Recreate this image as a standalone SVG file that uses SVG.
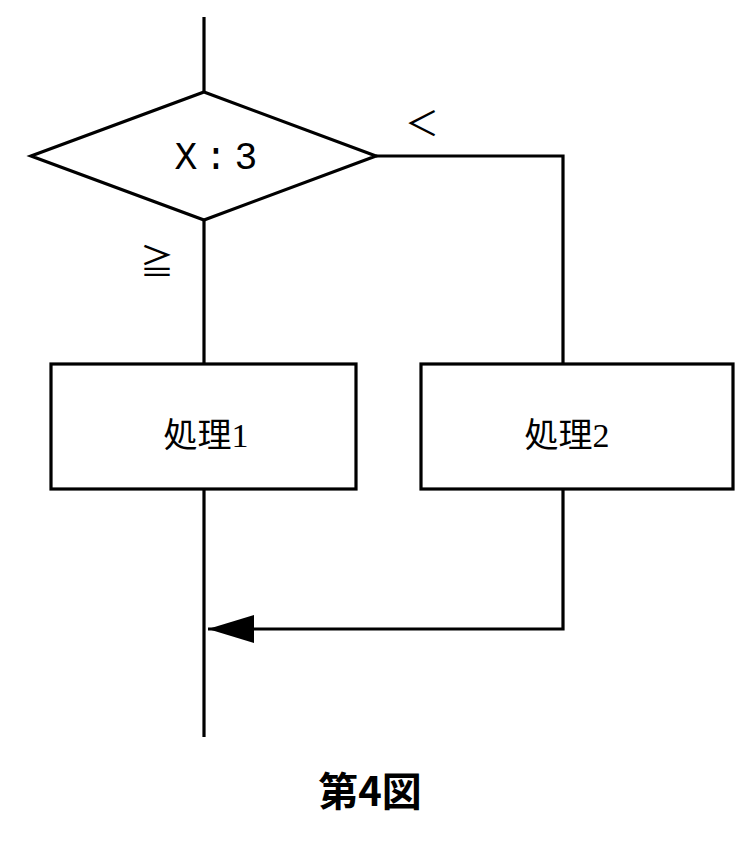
<svg xmlns="http://www.w3.org/2000/svg" width="750" height="846" viewBox="0 0 750 846">
<style>
.s{fill:none;stroke:#000;stroke-width:3.2}
.n{fill:#fff;stroke:#000;stroke-width:3.2}
.t{font-family:"Liberation Serif","Noto Sans CJK JP",serif;fill:#000;text-anchor:middle}
.m{font-family:"Liberation Mono","Noto Sans CJK JP",monospace;fill:#000;text-anchor:middle}
</style>
<defs>
<marker id="ah" markerWidth="46" markerHeight="28" refX="46" refY="14" orient="auto" markerUnits="userSpaceOnUse">
<path d="M0,0 L46,14 L0,28 Z" fill="#000"/>
</marker>
</defs>
<g id="connectors">
<path class="s" d="M204,17 V92"/>
<path class="s" d="M204,220 V364"/>
<path class="s" d="M376,156 H563 V364"/>
<path class="s" d="M204,489 V737"/>
<path class="s" d="M563,489 V629 H208" marker-end="url(#ah)"/>
</g>
<g id="decision">
<polygon class="n" points="204,92 376,156 204,220 31,156"/>
<text class="m" x="186 216 246" y="169" font-size="38">X:3</text>
</g>
<g id="label-ge"><text class="t" x="157" y="274" font-size="34">≧</text></g>
<g id="label-lt"><text class="t" x="422" y="136" font-size="34">＜</text></g>
<g id="process1">
<rect class="n" x="51" y="364" width="305" height="125"/>
<text class="t" x="206" y="447" font-size="34">処理1</text>
</g>
<g id="process2">
<rect class="n" x="421" y="364" width="312" height="125"/>
<text class="t" x="567" y="447" font-size="34">処理2</text>
</g>
<g id="caption">
<text x="370" y="806" font-size="40" font-weight="bold" text-anchor="middle" font-family="'Noto Sans CJK JP',sans-serif">第4図</text>
</g>
</svg>
